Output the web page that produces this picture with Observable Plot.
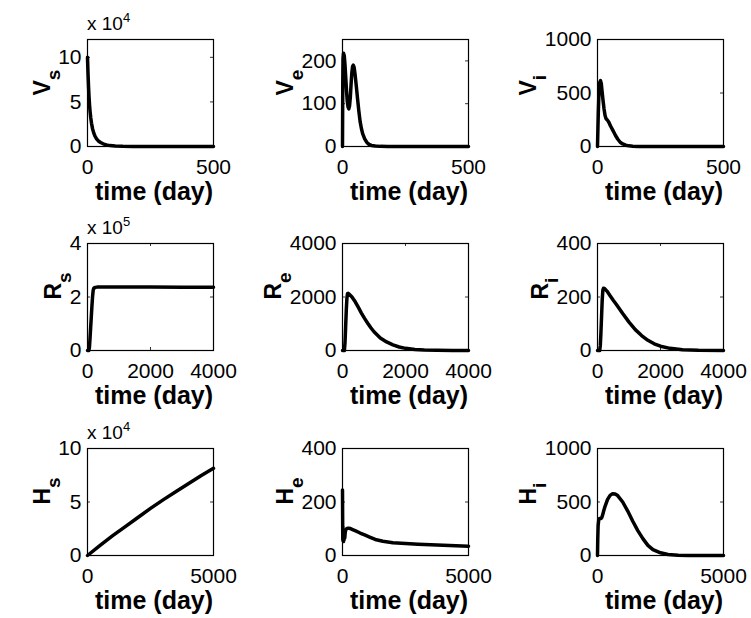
<!DOCTYPE html>
<html><head><meta charset="utf-8">
<script src="https://cdn.jsdelivr.net/npm/d3@7"></script>
<script src="https://cdn.jsdelivr.net/npm/@observablehq/plot@0.6"></script>
<style>
body{margin:0;background:#fff;}
#fig{position:relative;width:751px;height:618px;background:#fff;overflow:hidden;}
#fig svg{position:absolute;overflow:visible;}
</style></head><body><div id="fig"></div>
<script>
// ---- data (values in displayed units) ----
const vsTime  = [0, 2, 4, 6, 8, 10, 13, 16, 20, 25, 30, 36, 43, 52, 62, 75, 90, 110, 140, 180, 250, 350, 500];
const vsValue = [10, 8.2, 6.8, 5.6, 4.7, 4.0, 3.2, 2.6, 2.0, 1.5, 1.15, 0.85, 0.62, 0.45, 0.3, 0.18, 0.1, 0.05, 0.02, 0.005, 0, 0, 0];

const veTime  = [0, 1, 2, 4, 7, 10, 13, 16, 19, 22, 25, 28, 31, 34, 37, 40, 43, 46, 50, 55, 60, 65, 70, 75, 80, 88, 96, 105, 115, 130, 150, 180, 250, 500];
const veValue = [0, 140, 205, 218, 212, 190, 160, 130, 105, 92, 88, 95, 115, 145, 172, 187, 190, 185, 168, 140, 110, 82, 58, 42, 30, 18, 10, 5, 2.5, 1, 0.3, 0, 0, 0];

const viTime  = [0, 3, 6, 9, 12, 15, 18, 22, 26, 30, 34, 38, 42, 46, 50, 55, 60, 66, 72, 80, 90, 100, 112, 125, 140, 160, 200, 300, 500];
const viValue = [0, 300, 520, 600, 615, 590, 520, 430, 350, 290, 260, 250, 238, 222, 200, 178, 155, 128, 100, 70, 40, 24, 12, 6, 3, 1, 0, 0, 0];

const rsTime  = [0, 40, 60, 80, 100, 120, 140, 160, 180, 200, 250, 300, 500, 1000, 2000, 3000, 4000];
const rsValue = [0, 0, 0.1, 0.45, 0.85, 1.25, 1.65, 2.0, 2.25, 2.33, 2.36, 2.37, 2.37, 2.37, 2.37, 2.36, 2.36];

const reTime  = [0, 60, 80, 100, 120, 140, 160, 180, 220, 300, 400, 500, 600, 700, 800, 900, 1000, 1200, 1400, 1600, 1800, 2000, 2300, 2600, 3000, 3500, 4000];
const reValue = [0, 0, 300, 900, 1500, 1950, 2130, 2140, 2100, 2000, 1830, 1620, 1400, 1200, 1020, 850, 700, 470, 320, 210, 130, 80, 40, 20, 8, 2, 0.5];

const riTime  = [0, 70, 90, 110, 130, 150, 170, 190, 220, 300, 400, 500, 600, 800, 1000, 1200, 1400, 1600, 1800, 2000, 2300, 2700, 3200, 4000];
const riValue = [0, 0, 20, 70, 130, 190, 225, 233, 232, 222, 205, 188, 172, 138, 106, 78, 56, 38, 25, 16, 8, 3, 1, 0];

const hsTime  = [0, 500, 1000, 1500, 2000, 2500, 3000, 3500, 4000, 4500, 5000];
const hsValue = [0, 0.95, 1.85, 2.7, 3.55, 4.4, 5.2, 5.95, 6.7, 7.45, 8.15];

const heTime  = [0, 5, 10, 15, 20, 30, 40, 50, 60, 75, 90, 110, 130, 160, 200, 250, 300, 400, 500, 700, 900, 1100, 1300, 1600, 2000, 2500, 3000, 3500, 4000, 4500, 5000];
const heValue = [245, 150, 60, 110, 55, 90, 52, 80, 58, 75, 65, 88, 95, 100, 102, 102, 101, 97, 93, 84, 76, 68, 60, 53, 48, 45, 42, 40, 38, 36, 35];

const hiTime  = [0, 10, 25, 50, 80, 120, 160, 200, 250, 300, 400, 500, 600, 700, 800, 1000, 1200, 1400, 1600, 1800, 2000, 2200, 2500, 2800, 3200, 3600, 4200, 5000];
const hiValue = [0, 150, 280, 335, 345, 345, 350, 375, 420, 460, 525, 562, 578, 575, 560, 500, 415, 320, 232, 158, 95, 55, 25, 10, 3, 1, 0, 0];

// axis domains and tick labels
const xTicksRow1 = [0, 500];
const xTicksRow2 = [0, 2000, 4000];
const xTicksRow3 = [0, 5000];
const xLabel = "time (day)";

const panels = [
  {name: "V", sub: "s", t: vsTime, v: vsValue, xMax: 500,  xTicks: xTicksRow1, yMax: 12,   yTicks: [0, 5, 10],       exp: "4"},
  {name: "V", sub: "e", t: veTime, v: veValue, xMax: 500,  xTicks: xTicksRow1, yMax: 250,  yTicks: [0, 100, 200],     exp: null},
  {name: "V", sub: "i", t: viTime, v: viValue, xMax: 500,  xTicks: xTicksRow1, yMax: 1000, yTicks: [0, 500, 1000],    exp: null},
  {name: "R", sub: "s", t: rsTime, v: rsValue, xMax: 4000, xTicks: xTicksRow2, yMax: 4,    yTicks: [0, 2, 4],         exp: "5"},
  {name: "R", sub: "e", t: reTime, v: reValue, xMax: 4000, xTicks: xTicksRow2, yMax: 4000, yTicks: [0, 2000, 4000],   exp: null},
  {name: "R", sub: "i", t: riTime, v: riValue, xMax: 4000, xTicks: xTicksRow2, yMax: 400,  yTicks: [0, 200, 400],     exp: null},
  {name: "H", sub: "s", t: hsTime, v: hsValue, xMax: 5000, xTicks: xTicksRow3, yMax: 10,   yTicks: [0, 5, 10],        exp: "4"},
  {name: "H", sub: "e", t: heTime, v: heValue, xMax: 5000, xTicks: xTicksRow3, yMax: 400,  yTicks: [0, 200, 400],     exp: null},
  {name: "H", sub: "i", t: hiTime, v: hiValue, xMax: 5000, xTicks: xTicksRow3, yMax: 1000, yTicks: [0, 500, 1000],    exp: null}
];

// ---- layout ----
const FONT = "'Liberation Sans', Arial, Helvetica, sans-serif";
const colX = [0, 255, 510], rowY = [0, 204, 409];
const W = 240, H = 204, mL = 87, mR = 27, mT = 39, mB = 58;
const innerW = W - mL - mR, innerH = H - mT - mB;
const fig = document.getElementById("fig");

panels.forEach((p, i) => {
  const row = Math.floor(i / 3), col = i % 3;
  const data = p.t.map((t, k) => ({t, v: p.v[k]}));
  const svg = Plot.plot({
    width: W, height: H,
    marginLeft: mL, marginRight: mR, marginTop: mT, marginBottom: mB,
    style: {fontFamily: FONT, color: "black", background: "transparent", overflow: "visible"},
    x: {domain: [0, p.xMax]},
    y: {domain: [0, p.yMax]},
    marks: [
      Plot.tickX(p.xTicks, {x: d => d, insetTop: innerH - 3, stroke: "black", strokeWidth: 0.8}),
      Plot.tickX(p.xTicks, {x: d => d, insetBottom: innerH - 3, stroke: "black", strokeWidth: 0.8}),
      Plot.tickY(p.yTicks, {y: d => d, insetRight: innerW - 3, stroke: "black", strokeWidth: 0.8}),
      Plot.tickY(p.yTicks, {y: d => d, insetLeft: innerW - 3, stroke: "black", strokeWidth: 0.8}),
      Plot.frame({stroke: "black", strokeWidth: 1.2}),
      Plot.axisX(p.xTicks, {tickSize: 0, tickPadding: 13, fontSize: 21, label: null, tickFormat: d => String(d)}),
      Plot.axisY(p.yTicks, {tickSize: 0, tickPadding: 6, fontSize: 21, label: null, tickFormat: d => String(d)}),
      Plot.line(data, {x: "t", y: "v", stroke: "black", strokeWidth: 3.5, strokeLinejoin: "round", strokeLinecap: "round"})
    ]
  });
  svg.style.left = colX[col] + "px";
  svg.style.top = rowY[row] + "px";
  fig.appendChild(svg);

  const s = d3.select(svg);
  // x label
  s.append("text")
    .attr("x", mL + innerW / 2 + 4).attr("y", mT + innerH + 54)
    .attr("text-anchor", "middle")
    .attr("font-family", FONT).attr("font-weight", "bold").attr("font-size", 25)
    .attr("fill", "black")
    .text(xLabel);
  // y label with subscript
  let left = mL - 45;
  const g = svg.querySelector('g[aria-label="y-axis tick label"]');
  if (g) { try { left = g.getBBox().x; } catch (e) {} }
  const yl = s.append("text")
    .attr("transform", `translate(${left - 14},${mT + innerH / 2 + 3}) rotate(-90)`)
    .attr("text-anchor", "start")
    .attr("font-family", FONT).attr("font-weight", "bold").attr("font-size", 23)
    .attr("fill", "black");
  yl.append("tspan").text(p.name);
  yl.append("tspan").attr("dy", 10).attr("font-size", 19).text(p.sub);
  // exponent label
  if (p.exp) {
    const ex = s.append("text")
      .attr("x", mL).attr("y", mT - 9.5)
      .attr("text-anchor", "start")
      .attr("font-family", FONT).attr("font-size", 19).attr("fill", "black");
    ex.append("tspan").text("x 10");
    ex.append("tspan").attr("dy", -8).attr("font-size", 13).text(p.exp);
  }
});
</script>
</body></html>
